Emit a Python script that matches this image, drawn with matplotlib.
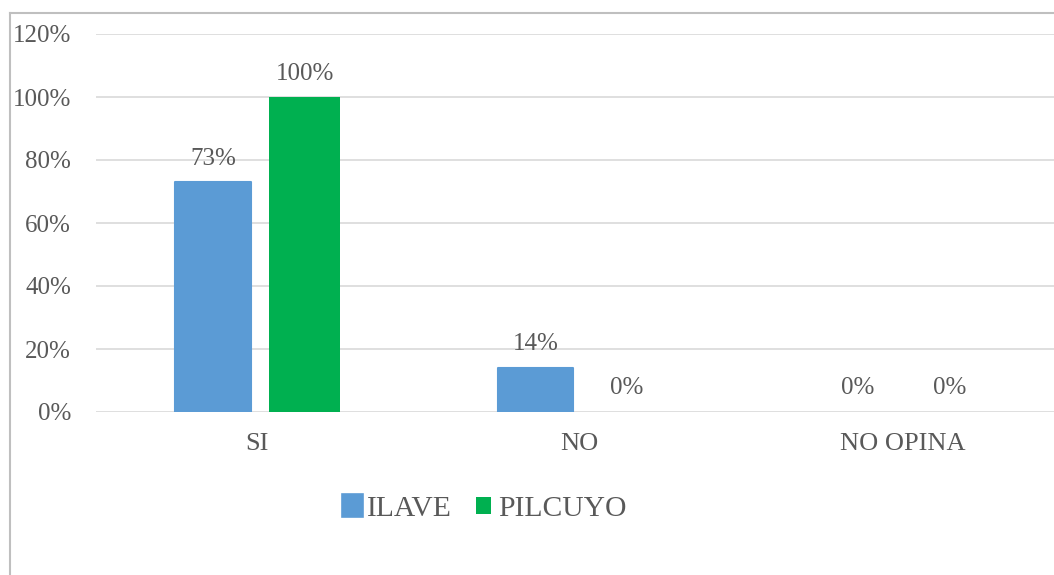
import matplotlib.pyplot as plt
import numpy as np
from matplotlib.patches import Patch
from matplotlib.lines import Line2D

# Survey results by district (percent)
categories = ['SI', 'NO', 'NO OPINA']
ilave = [73, 14, 0]
pilcuyo = [100, 0, 0]
series_names = ['ILAVE', 'PILCUYO']

blue = '#5B9BD5'
green = '#00B050'
text_color = '#595959'
grid_color = '#D9D9D9'

plt.rcParams['font.family'] = ['Liberation Serif', 'DejaVu Serif']
plt.rcParams['font.size'] = 18

fig = plt.figure(figsize=(10.54, 5.75), dpi=100)
ax = fig.add_axes([96 / 1054, 1 - 412 / 575, 967.5 / 1054, 378 / 575])

x = np.arange(len(categories))
ax.bar(x - 0.137, ilave, width=0.235, color=blue, edgecolor=blue,
       linewidth=[1.5 if v else 0 for v in ilave], joinstyle='round', zorder=3)
ax.bar(x + 0.147, pilcuyo, width=0.22, color=green, linewidth=0, zorder=3)

# Value labels above each bar
for xi, v in zip(x - 0.137, ilave):
    ax.annotate(f'{v}%', (xi, v), xytext=(0, 9), textcoords='offset points',
                ha='center', va='bottom', color=text_color)
for xi, v in zip(x + 0.147, pilcuyo):
    ax.annotate(f'{v}%', (xi, v), xytext=(0, 9), textcoords='offset points',
                ha='center', va='bottom', color=text_color)

ax.set_xlim(-0.5, 2.5)
ax.set_ylim(0, 120)
ax.set_yticks(range(0, 121, 20))
ax.set_yticklabels([f'{t}%' for t in range(0, 121, 20)])
ax.set_xticks(x)
ax.set_xticklabels(categories, fontsize=19)
ax.tick_params(axis='y', length=0, pad=18, colors=text_color)
ax.tick_params(axis='x', length=0, pad=15, colors=text_color)
ax.yaxis.grid(True, color=grid_color, linewidth=1.2, zorder=0)
ax.set_axisbelow(True)
for s in ax.spines.values():
    s.set_visible(False)

handles = [Patch(facecolor=blue, edgecolor=blue, linewidth=5.5, joinstyle='round'),
           Patch(facecolor=green, linewidth=0)]
fig.legend(handles, series_names, loc='center', ncol=2, frameon=False,
           bbox_to_anchor=(486 / 1054, 1 - 509 / 575), fontsize=21.3,
           handlelength=0.5, handleheight=0.5, handletextpad=0.25,
           columnspacing=0.8, labelcolor=text_color)

# Chart frame (runs off the right and bottom edges)
fig.add_artist(Line2D([9.5 / 1054, 9.5 / 1054], [0, 1 - 12.5 / 575],
                      color='#BFBFBF', linewidth=1.5, transform=fig.transFigure))
fig.add_artist(Line2D([9.5 / 1054, 1], [1 - 12.5 / 575, 1 - 12.5 / 575],
                      color='#BFBFBF', linewidth=1.5, transform=fig.transFigure))

fig.savefig('out.png', dpi=100)
